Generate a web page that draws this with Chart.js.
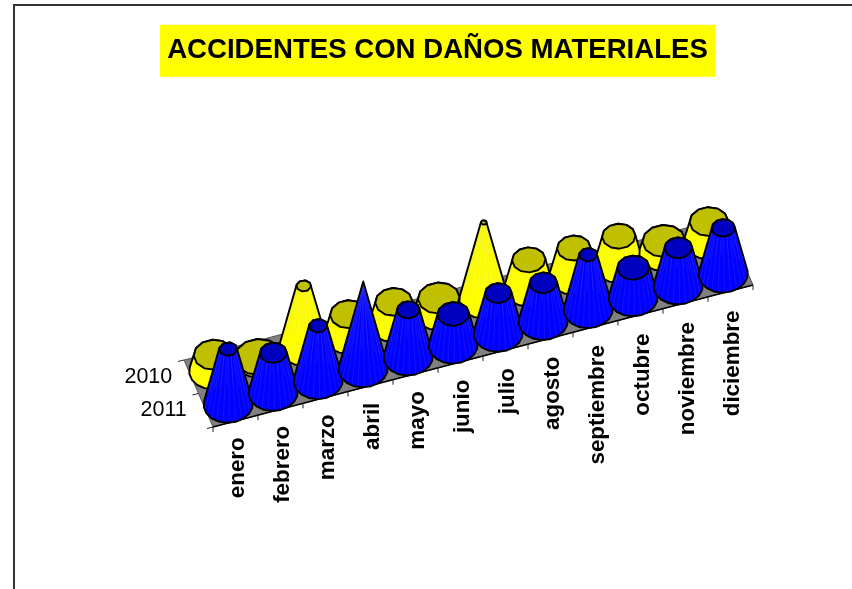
<!DOCTYPE html>
<html><head><meta charset="utf-8">
<style>
html,body{margin:0;padding:0;background:#fff;width:852px;height:589px;overflow:hidden}
#wrap{position:absolute;left:15px;top:4px;width:845px;height:585px}
#frame{position:absolute;left:13px;top:4px;width:900px;height:700px;border:2px solid #333;box-sizing:border-box}
canvas{display:block}
</style>
<script src="https://cdn.jsdelivr.net/npm/chart.js@4/dist/chart.umd.js"></script>
</head><body>
<div id="frame"></div>
<div id="wrap"><canvas id="c" width="845" height="585"></canvas></div>
<script>
const titleText = 'ACCIDENTES CON DAÑOS MATERIALES';
const categories = ['enero','febrero','marzo','abril','mayo','junio','julio','agosto','septiembre','octubre','noviembre','diciembre'];
const seriesNames = ['2010','2011'];
const values2010 = [16,2,61,21,21.5,13.5,77,28,28,28,11.5,19];
const values2011 = [55,39.5,54.7,87,47,31,40,38.5,54.7,30,38,46];
const valueMax = 87;

const FONT = '"Liberation Sans", Arial, sans-serif';
const AX = {slope:142/540, labelSlope:0.256, depthX:-29, depthY:-67, n:24};

function basePoint(scaleX, x, y, row){
  return {x:x+AX.depthX*(row+0.5)/2, y:y-(x-scaleX.left)*AX.slope+AX.depthY*(row+0.5)/2};
}
function ringPts(c, ru, rv, f, n, phase){
  const pts=[];
  for(let k=0;k<n;k++){
    const a=phase+k/n*Math.PI*2, ca=Math.cos(a)*f, sa=Math.sin(a)*f;
    pts.push({x:c.x+ru.x*ca+rv.x*sa, y:c.y+ru.y*ca+rv.y*sa, a});
  }
  return pts;
}
function hull(points){
  const p=points.slice().sort((a,b)=>a.x-b.x||a.y-b.y);
  const cr=(o,a,b)=>(a.x-o.x)*(b.y-o.y)-(a.y-o.y)*(b.x-o.x);
  const lo=[],up=[];
  for(const q of p){while(lo.length>1&&cr(lo[lo.length-2],lo[lo.length-1],q)<=0)lo.pop();lo.push(q);}
  for(let i=p.length-1;i>=0;i--){const q=p[i];while(up.length>1&&cr(up[up.length-2],up[up.length-1],q)<=0)up.pop();up.push(q);}
  lo.pop();up.pop();return lo.concat(up);
}
function poly(ctx,pts){ctx.beginPath();pts.forEach((q,i)=>i?ctx.lineTo(q.x,q.y):ctx.moveTo(q.x,q.y));ctx.closePath();}

class ConeController extends Chart.BarController{
  draw(){
    const ctx=this.chart.ctx, meta=this.getMeta(), ds=this.getDataset();
    const sx=meta.iScale, sy=meta.vScale;
    const els=meta.data.slice();
    els.forEach((el,i)=>{
      const v=ds.data[i];
      const half=el.width/2*1.04;
      const ru={x:half,y:-half*AX.slope};
      const rv={x:AX.depthX/4*1.04,y:AX.depthY/4*1.04};
      const b=basePoint(sx,el.x,sy.getPixelForValue(0),ds.row);
      const h=sy.getPixelForValue(0)-sy.getPixelForValue(v);
      const t={x:b.x,y:b.y-h};
      const f=Math.max(1-v/sy.max,0);
      const bp=ringPts(b,ru,rv,1,18,0.17);
      const tp=f>0.001?ringPts(t,ru,rv,f,f<0.45?8:12,0.26):[{x:t.x,y:t.y}];
      const shell=hull(bp.concat(tp));
      ctx.save();
      ctx.lineJoin='round';
      poly(ctx,shell);ctx.fillStyle=ds.backgroundColor;ctx.fill();
      poly(ctx,shell);ctx.save();ctx.clip();
      ctx.strokeStyle=ds.streakColor;ctx.lineWidth=0.7;
      const bs=ringPts(b,ru,rv,1,AX.n,0), ts=ringPts(t,ru,rv,f,AX.n,0);
      for(let k=0;k<AX.n;k++){
        ctx.beginPath();ctx.moveTo(bs[k].x,bs[k].y);ctx.lineTo(ts[k].x,ts[k].y);ctx.stroke();
      }
      ctx.restore();
      ctx.strokeStyle='#000';ctx.lineWidth=1.9;
      poly(ctx,shell);ctx.stroke();
      if(tp.length>1){poly(ctx,tp);ctx.fillStyle=ds.topColor;ctx.fill();ctx.stroke();}
      ctx.restore();
    });
  }
}
ConeController.id='cone';
ConeController.defaults=Chart.BarController.defaults;
ConeController.overrides=Chart.BarController.overrides;
Chart.register(ConeController);

const floorPlugin={
  id:'floor',
  beforeDraw(chart){
    const ctx=chart.ctx,x=chart.scales.x,y=chart.scales.y,z=chart.scales.z;
    // title background
    const tb=chart.titleBlock;
    ctx.save();
    const cx=(tb.left+tb.right)/2, cy=tb.top+tb.options.padding.top+16.8;
    ctx.fillStyle='#ffff00';
    ctx.fillRect(cx-277.5,cy-26,555,52);
    ctx.restore();
    // place tick labels along the slanted floor edges
    const y0=y.getPixelForValue(0);
    x.getLabelItems().forEach((it,i)=>{
      const px=x.getPixelForTick(i);
      it.textOffset=0;
      it.options.textAlign='right';
      it.options.textBaseline='middle';
      it.options.translation=[px+2.5,y0-(px-x.left)*AX.labelSlope+16];
    });
    z.getLabelItems().forEach((it,i)=>{
      const f=seriesNames[i]==='2011'?0.25:0.75;
      it.textOffset=0;
      it.options.textAlign='right';
      it.options.textBaseline='middle';
      it.options.translation=[x.left+AX.depthX*f-19,y0+AX.depthY*f];
    });
    // floor
    const A={x:x.left,y:y0},B={x:x.right,y:y0-(x.right-x.left)*AX.slope};
    const C={x:B.x+AX.depthX,y:B.y+AX.depthY},D={x:A.x+AX.depthX,y:A.y+AX.depthY};
    ctx.save();
    poly(ctx,[A,B,C,D]);ctx.fillStyle='#808080';ctx.fill();
    ctx.strokeStyle='#555';ctx.lineWidth=1;ctx.stroke();
    ctx.strokeStyle='#000';ctx.lineWidth=1.4;
    ctx.beginPath();ctx.moveTo(A.x,A.y);ctx.lineTo(B.x,B.y);ctx.stroke();
    ctx.lineWidth=1;ctx.strokeStyle='#222';
    for(let i=0;i<=categories.length;i++){
      const px=x.left+(x.right-x.left)*i/categories.length;
      const py=y0-(px-x.left)*AX.slope;
      ctx.beginPath();ctx.moveTo(px,py);ctx.lineTo(px,py+5);ctx.stroke();
    }
    for(let i=0;i<=seriesNames.length;i++){
      const f=i/seriesNames.length;
      const px=A.x+AX.depthX*f,py=A.y+AX.depthY*f;
      ctx.beginPath();ctx.moveTo(px,py);ctx.lineTo(px-6,py+1.5);ctx.stroke();
    }
    ctx.restore();
  }
};

new Chart(document.getElementById('c'),{
  type:'cone',
  data:{labels:categories,datasets:[
    {label:seriesNames[0],data:values2010,row:1,order:2,clip:false,grouped:false,barPercentage:1,categoryPercentage:1,backgroundColor:'#ffff00',topColor:'#c0c000',streakColor:'rgba(235,235,70,0.5)'},
    {label:seriesNames[1],data:values2011,row:0,order:1,clip:false,grouped:false,barPercentage:1,categoryPercentage:1,backgroundColor:'#0000ff',topColor:'#0000c0',streakColor:'rgba(80,80,255,0.35)'}
  ]},
  plugins:[floorPlugin],
  options:{
    responsive:false,animation:false,
    devicePixelRatio:1,
    layout:{padding:{left:107,right:107,top:0,bottom:0}},
    plugins:{
      legend:{display:false},tooltip:{enabled:false},
      title:{display:true,text:titleText,color:'#000',font:{family:FONT,size:27.6,weight:'bold',lineHeight:1.2},padding:{top:30,bottom:272.5}}
    },
    scales:{
      x:{type:'category',labels:categories,offset:true,position:'bottom',
        grid:{display:false},border:{display:false},
        ticks:{mirror:true,autoSkip:false,minRotation:90,maxRotation:90,color:'#000',font:{family:FONT,size:22.4,weight:'bold'}},
        afterFit(s){s.height=162;s.paddingLeft=s.paddingRight=0;}},
      y:{type:'linear',min:0,max:valueMax,display:false},
      z:{type:'category',axis:'y',position:'left',labels:seriesNames,
        grid:{display:false},border:{display:false},
        ticks:{mirror:true,color:'#000',font:{family:FONT,size:21.5}},
        afterFit(s){s.width=91;s.paddingTop=s.paddingBottom=0;}}
    }
  }
});
</script>
</body></html>
